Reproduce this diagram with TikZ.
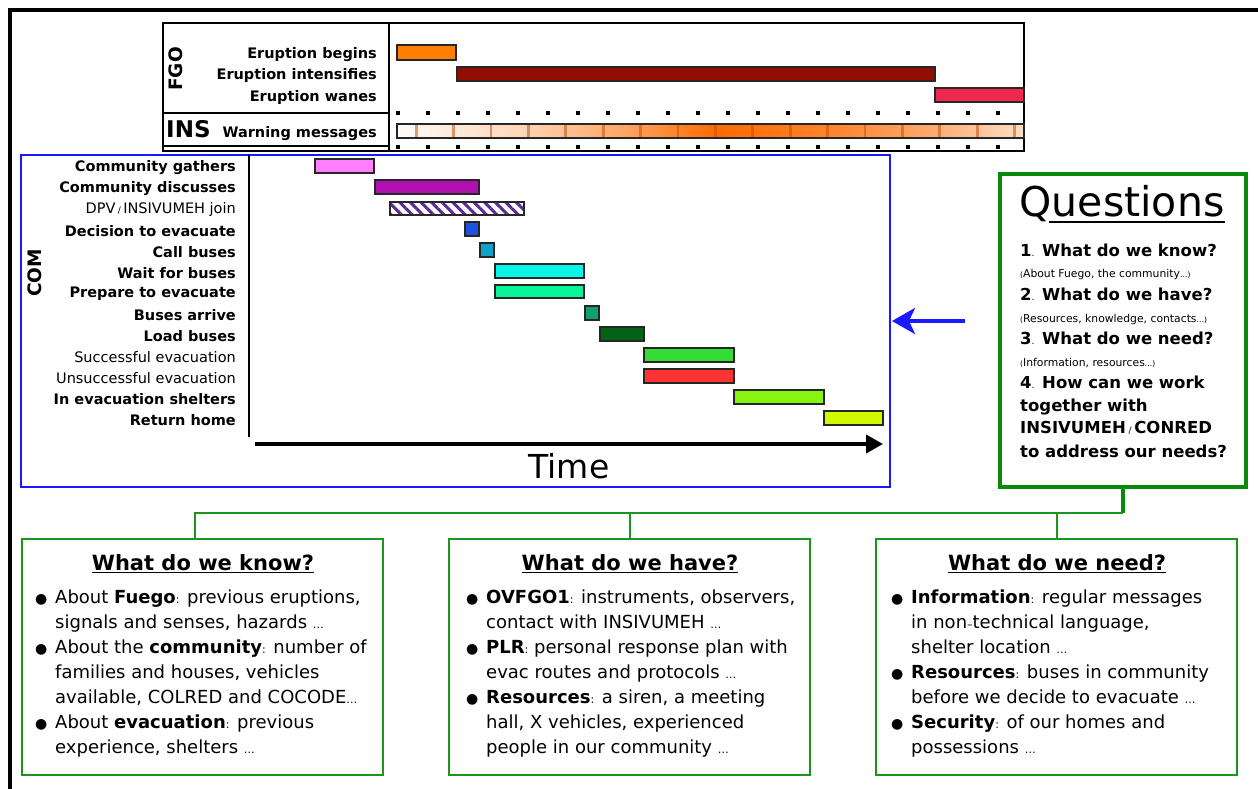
\documentclass[tikz,border=0pt]{standalone}
\usepackage{fontspec}
\setmainfont{DejaVu Sans}
\usetikzlibrary{arrows.meta,patterns.meta}
\definecolor{cBegin}{HTML}{FF8000}
\definecolor{cInt}{HTML}{920C00}
\definecolor{cWane}{HTML}{F02850}
\definecolor{cGath}{HTML}{FF80FF}
\definecolor{cDisc}{HTML}{B010B0}
\definecolor{cHatch}{HTML}{5A2A9A}
\definecolor{cDec}{HTML}{2050E0}
\definecolor{cCall}{HTML}{10A0C8}
\definecolor{cWait}{HTML}{08F5E8}
\definecolor{cPrep}{HTML}{08F59A}
\definecolor{cArr}{HTML}{10A070}
\definecolor{cLoad}{HTML}{006414}
\definecolor{cSucc}{HTML}{33DD33}
\definecolor{cFail}{HTML}{FF3333}
\definecolor{cShel}{HTML}{88F510}
\definecolor{cHome}{HTML}{D0F800}
\definecolor{cBlue}{HTML}{1A1AFF}
\definecolor{cGreen}{HTML}{1A961A}
\definecolor{cQGreen}{HTML}{0A8A0A}
\definecolor{cWarn}{HTML}{FF6A00}
\definecolor{cStripe}{HTML}{C05010}
\colorlet{wA}{cWarn!3}
\colorlet{wB}{cWarn!28}
\colorlet{wC}{cWarn!60}
\colorlet{wD}{cWarn!82}
\colorlet{wE}{cWarn!55}
\colorlet{wF}{cWarn!22}
\pgfdeclarehorizontalshading{warnshade}{100bp}{color(0bp)=(wA); color(25bp)=(wA); color(35bp)=(wB); color(43bp)=(wC); color(50.5bp)=(cWarn); color(60bp)=(wD); color(68bp)=(wE); color(75bp)=(wF); color(100bp)=(wF)}
\newcommand{\smallch}[1]{{\mdseries\fontsize{9}{9}\selectfont #1}}
\newcommand{\midch}[1]{{\mdseries\fontsize{11}{11}\selectfont #1}}
\newcommand{\tinych}[1]{{\mdseries\fontsize{7.5}{7.5}\selectfont #1}}
\newcommand{\bul}{\makebox[20pt][l]{\fontsize{14}{14}\selectfont ●}}
\tikzset{
  lb/.style={anchor=mid east, inner sep=0pt, font=\bfseries\fontsize{14.5}{14.5}\selectfont},
  ln/.style={anchor=mid east, inner sep=0pt, font=\fontsize{14.5}{14.5}\selectfont},
  bar/.style={draw=black!85, line width=1.6pt},
  qline/.style={anchor=mid west, inner sep=0pt, font=\bfseries\fontsize{16.5}{16.5}\selectfont},
  qsmall/.style={anchor=mid west, inner sep=0pt, font=\fontsize{10.8}{10.8}\selectfont},
  gbox/.style={draw=cGreen, line width=2pt, minimum width=361pt, minimum height=236pt, inner sep=0pt},
  hdr/.style={anchor=base, inner sep=0pt, font=\bfseries\fontsize{21}{21}\selectfont},
  body/.style={anchor=base west, inner sep=0pt, font=\fontsize{18}{25}\selectfont},
  gline/.style={draw=cGreen, line width=2pt}
}
\begin{document}
\begin{tikzpicture}[x=1pt,y=-1pt]
\useasboundingbox (0,0) rectangle (1258,789);
\fill[white] (0,0) rectangle (1258,789);
% outer frame
\draw[line width=4pt] (10,789) -- (10,10.5) -- (1258,10.5);

% FGO / INS panel
\draw[line width=1.5pt] (163,23) rectangle (1024,151);
\draw[line width=1.5pt] (389,23) -- (389,151);
\draw[line width=1.5pt] (163,113) -- (389,113);
\draw[line width=1.5pt] (163,146) -- (389,146);
\node[font=\bfseries\fontsize{18.5}{18.5}\selectfont, rotate=90, inner sep=0pt] (fgo) at (176,69) {FGO};
\node[lb] (eb) at (377,55.5) {Eruption begins};
\node[lb] (ei) at (377,76.5) {Eruption intensifies};
\node[lb] (ew) at (377,98.5) {Eruption wanes};
\node[anchor=mid west, inner sep=0pt, font=\bfseries\fontsize{23}{23}\selectfont] (ins) at (166,135) {INS};
\node[lb] (wm) at (377,134.5) {Warning messages};
\draw[bar, fill=cBegin] (397,45) rectangle (456,60);
\draw[bar, fill=cInt] (457,67) rectangle (935,81);
\draw[bar, fill=cWane] (935,88) rectangle (1024,102);
\foreach \i in {0,...,20} {
  \fill ({398+30*\i-1.6},111.4) rectangle ++(3.2,3.2);
  \fill ({398+30*\i-1.6},145.4) rectangle ++(3.2,3.2);
}
\shade[shading=warnshade] (397,124) rectangle (1024,138);
\foreach \i in {0,...,16} \fill[cStripe, opacity=0.55] ({416+37.4*\i-1.2},124) rectangle ++(2.8,14);
\draw[bar] (397,124) rectangle (1024,138);

% COM panel
\draw[cBlue, line width=2pt] (21,155) rectangle (890,487);
\draw[line width=1.5pt] (249,155) -- (249,437);
\node[font=\bfseries\fontsize{18.5}{18.5}\selectfont, rotate=90, inner sep=0pt] (com) at (35,273) {COM};
\node[lb] (l1) at (236,169) {Community gathers};
\node[lb] (l2) at (236,190) {Community discusses};
\node[ln] (l3) at (236,211) {DPV\,\smallch{/}\,INSIVUMEH join};
\node[lb] (l4) at (236,234) {Decision to evacuate};
\node[lb] (l5) at (236,255) {Call buses};
\node[lb] (l6) at (236,276) {Wait for buses};
\node[lb] (l7) at (236,295) {Prepare to evacuate};
\node[lb] (l8) at (236,318) {Buses arrive};
\node[lb] (l9) at (236,339) {Load buses};
\node[ln] (l10) at (236,360) {Successful evacuation};
\node[ln] (l11) at (236,381) {Unsuccessful evacuation};
\node[lb] (l12) at (236,402) {In evacuation shelters};
\node[lb] (l13) at (236,423) {Return home};
\draw[bar, fill=cGath] (315,159) rectangle (374,173);
\draw[bar, fill=cDisc] (375,180) rectangle (479,194);
\fill[white] (390,202) rectangle (524,215);
\fill[pattern={Lines[angle=-45,distance=7.5pt,line width=3pt]}, pattern color=cHatch] (390,202) rectangle (524,215);
\draw[bar] (390,202) rectangle (524,215);
\draw[bar, fill=cDec] (465,222) rectangle (479,236);
\draw[bar, fill=cCall] (480,243) rectangle (494,257);
\draw[bar, fill=cWait] (495,264) rectangle (584,278);
\draw[bar, fill=cPrep] (495,285) rectangle (584,298);
\draw[bar, fill=cArr] (585,306) rectangle (599,320);
\draw[bar, fill=cLoad] (600,327) rectangle (644,341);
\draw[bar, fill=cSucc] (644,348) rectangle (734,362);
\draw[bar, fill=cFail] (644,369) rectangle (734,383);
\draw[bar, fill=cShel] (734,390) rectangle (824,404);
\draw[bar, fill=cHome] (824,411) rectangle (883,425);
\coordinate (t0) at (255,444);
\coordinate (t1) at (883,444);
\draw[line width=4pt, -{Triangle[length=17pt,width=18pt]}] (t0) -- (t1);
\node[font=\fontsize{33}{33}\selectfont, inner sep=0pt] (time) at (569,466) {Time};

% Questions
\node[draw=cQGreen, line width=3.5pt, minimum width=246pt, minimum height=313pt, inner sep=0pt] (qbox) at (1123,330.5) {};
\coordinate (qa) at (965,321);
\coordinate (qb) at (892,321);
\draw[cBlue, line width=3.5pt, -{Stealth[length=23pt,width=26pt,inset=6pt]}] (qa) -- (qb);
\node[anchor=base, inner sep=0pt, font=\fontsize{41}{41}\selectfont] (qt) at (1122,216) {Questions};
\draw[line width=2.5pt] ([xshift=30pt,yshift=-6pt]qt.base west) -- ([yshift=-6pt]qt.base east);
\node[qline] (q1) at (1020,254) {1\smallch{.} What do we know?};
\node[qsmall] (q1s) at (1020,275) {\tinych{(}About Fuego, the community\tinych{…)}};
\node[qline] (q2) at (1020,298) {2\smallch{.} What do we have?};
\node[qsmall] (q2s) at (1020,320) {\tinych{(}Resources, knowledge, contacts\tinych{…)}};
\node[qline] (q3) at (1020,342) {3\smallch{.} What do we need?};
\node[qsmall] (q3s) at (1020,364) {\tinych{(}Information, resources\tinych{…)}};
\node[qline] (q4a) at (1020,386) {4\smallch{.} How can we work};
\node[qline] (q4b) at (1020,409) {together with};
\node[qline] (q4c) at (1020,431) {INSIVUMEH\,\smallch{/}\,CONRED};
\node[qline] (q4d) at (1020,455) {to address our needs?};

% bottom boxes
\node[gbox] (know) at (202.5,657) {};
\node[gbox] (have) at (629.5,657) {};
\node[gbox] (need) at (1056.5,657) {};
\coordinate (hub) at (1123,513);
\draw[draw=cQGreen, line width=3.5pt] (qbox.south) -- (hub);
\draw[gline] ([xshift=-7.5pt]know.north) |- (hub);
\draw[gline] (have.north) -- (have.north |- hub);
\draw[gline] (need.north) -- (need.north |- hub);

\node[hdr] (knowh) at (203,570) {\underline{What do we know?}};
\node[hdr] (haveh) at (630,570) {\underline{What do we have?}};
\node[hdr] (needh) at (1057,570) {\underline{What do we need?}};

\node[body] (knowt) at (35,603) {\begin{tabular}[t]{@{}l@{}l@{}}
\bul & About \textbf{Fuego}\midch{:} previous eruptions,\\
 & signals and senses, hazards \midch{…}\\
\bul & About the \textbf{community}\midch{:} number of\\
 & families and houses, vehicles\\
 & available, COLRED and COCODE\midch{…}\\
\bul & About \textbf{evacuation}\midch{:} previous\\
 & experience, shelters \midch{…}
\end{tabular}};
\node[body] (havet) at (466,603) {\begin{tabular}[t]{@{}l@{}l@{}}
\bul & \textbf{OVFGO1}\midch{:} instruments, observers,\\
 & contact with INSIVUMEH \midch{…}\\
\bul & \textbf{PLR}\midch{:} personal response plan with\\
 & evac routes and protocols \midch{…}\\
\bul & \textbf{Resources}\midch{:} a siren, a meeting\\
 & hall, X vehicles, experienced\\
 & people in our community \midch{…}
\end{tabular}};
\node[body] (needt) at (891,603) {\begin{tabular}[t]{@{}l@{}l@{}}
\bul & \textbf{Information}\midch{:} regular messages\\
 & in non\midch{–}technical language,\\
 & shelter location \midch{…}\\
\bul & \textbf{Resources}\midch{:} buses in community\\
 & before we decide to evacuate \midch{…}\\
\bul & \textbf{Security}\midch{:} of our homes and\\
 & possessions \midch{…}
\end{tabular}};
\end{tikzpicture}
\end{document}
